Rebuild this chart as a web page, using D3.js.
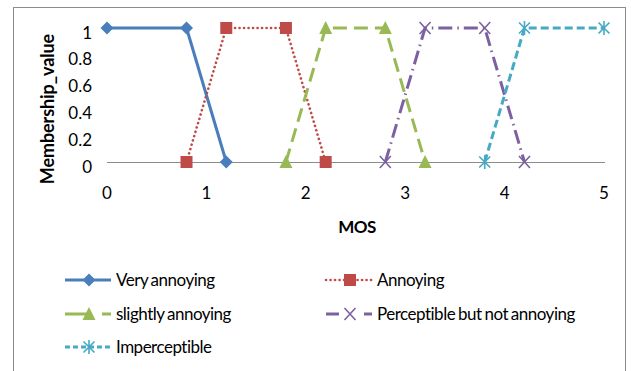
<!DOCTYPE html>
<html>
<head>
<meta charset="utf-8">
<script src="https://cdn.jsdelivr.net/npm/d3@7"></script>
<style>
  html, body { margin: 0; padding: 0; background: #fff; }
  text { font-family: Lato, "Open Sans", sans-serif; fill: #000; }
</style>
</head>
<body>
<svg id="chart" width="631" height="371"></svg>
<script>
// MOS membership functions (x = MOS, y = membership value)
const veryAnnoying = [[0, 1], [0.8, 1], [1.2, 0]];
const annoying = [[0.8, 0], [1.2, 1], [1.8, 1], [2.2, 0]];
const slightlyAnnoying = [[1.8, 0], [2.2, 1], [2.8, 1], [3.2, 0]];
const perceptible = [[2.8, 0], [3.2, 1], [3.8, 1], [4.2, 0]];
const imperceptible = [[3.8, 0], [4.2, 1], [5, 1]];

const seriesNames = ["Very annoying", "Annoying", "slightly annoying", "Perceptible but not annoying", "Imperceptible"];
const xTicks = [0, 1, 2, 3, 4, 5];
const yTicks = [0, 0.2, 0.4, 0.6, 0.8, 1];

const series = [
  { name: seriesNames[0], data: veryAnnoying, color: "#4A7EBB", dash: null, legendDash: null, cap: "butt", marker: "diamond" },
  { name: seriesNames[1], data: annoying, color: "#BE4B48", dash: "0.1 4.4", legendDash: "0.1 4.4", cap: "round", marker: "square" },
  { name: seriesNames[2], data: slightlyAnnoying, color: "#98B954", dash: "14 7", legendDash: "26 11 9", cap: "butt", marker: "triangle" },
  { name: seriesNames[3], data: perceptible, color: "#7D60A0", dash: "14 5 1.5 5", legendDash: "13 25 8", cap: "butt", marker: "cross" },
  { name: seriesNames[4], data: imperceptible, color: "#46AAC5", dash: "8 4", legendDash: "5 3", cap: "butt", marker: "star" }
];

const svg = d3.select("#chart");

// outer chart frame
svg.append("rect")
  .attr("x", 13.5).attr("y", 7.5)
  .attr("width", 612).attr("height", 380)
  .attr("fill", "none").attr("stroke", "#8c8c8c").attr("stroke-width", 1);

const x = d3.scaleLinear().domain([0, 5]).range([107, 604]);
const y = d3.scaleLinear().domain([0, 1]).range([162, 28]);

// x axis line (no tick marks)
svg.append("line")
  .attr("x1", x(0)).attr("x2", x(5) + 1)
  .attr("y1", y(0) + 0.5).attr("y2", y(0) + 0.5)
  .attr("stroke", "#8c8c8c").attr("stroke-width", 1);

svg.append("g").selectAll("text").data(xTicks).join("text")
  .attr("x", d => x(d)).attr("y", 199)
  .attr("text-anchor", "middle")
  .attr("font-size", 17)
  .text(d => d);

svg.append("g").selectAll("text").data(yTicks).join("text")
  .attr("x", 92).attr("y", d => y(d) + 10.5)
  .attr("text-anchor", "end")
  .attr("font-size", 17)
  .text(d => d);

svg.append("text")
  .attr("transform", `translate(54,${y(0.5) + 14}) rotate(-90)`)
  .attr("text-anchor", "middle")
  .attr("font-size", 18).attr("font-weight", "bold")
  .attr("letter-spacing", -0.1)
  .text("Membership_value");

svg.append("text")
  .attr("x", 357).attr("y", 233)
  .attr("text-anchor", "middle")
  .attr("font-size", 17).attr("font-weight", "bold")
  .attr("letter-spacing", -0.5)
  .text("MOS");

// marker shapes
function drawMarker(g, type, color) {
  if (type === "diamond") {
    g.append("path").attr("d", "M0,-6.5L6.5,0L0,6.5L-6.5,0Z").attr("fill", color);
  } else if (type === "square") {
    g.append("rect").attr("x", -6).attr("y", -6).attr("width", 12).attr("height", 12).attr("fill", color);
  } else if (type === "triangle") {
    g.append("path").attr("d", "M0,-7L6.5,6L-6.5,6Z").attr("fill", color);
  } else if (type === "cross") {
    g.append("path").attr("d", "M-5.5,-6L5.5,6M-5.5,6L5.5,-6").attr("stroke", color).attr("stroke-width", 1.6);
  } else if (type === "star") {
    g.append("path").attr("d", "M-5.5,-5.5L5.5,5.5M-5.5,5.5L5.5,-5.5M0,-7L0,7").attr("stroke", color).attr("stroke-width", 1.6);
  }
}

const line = d3.line().x(d => x(d[0])).y(d => y(d[1]));

series.forEach(s => {
  svg.append("path")
    .attr("d", line(s.data))
    .attr("fill", "none")
    .attr("stroke", s.color)
    .attr("stroke-width", s.marker === "square" ? 2.6 : 3)
    .attr("stroke-linecap", s.cap)
    .attr("stroke-linejoin", "round")
    .attr("stroke-dasharray", s.dash);
  s.data.forEach(d => {
    const g = svg.append("g").attr("transform", `translate(${x(d[0])},${y(d[1])})`);
    drawMarker(g, s.marker, s.color);
  });
});

// legend: two columns, three rows
const legendPos = [
  [65, 280], [326, 280],
  [65, 314], [326, 314],
  [65, 347]
];
series.forEach((s, i) => {
  const [lx, ly] = legendPos[i];
  const g = svg.append("g").attr("transform", `translate(${lx},${ly})`);
  g.append("line")
    .attr("x1", 0).attr("x2", 46).attr("y1", 0).attr("y2", 0)
    .attr("stroke", s.color)
    .attr("stroke-width", s.marker === "square" ? 2.6 : 3)
    .attr("stroke-linecap", s.cap)
    .attr("stroke-dasharray", s.legendDash);
  const mg = g.append("g").attr("transform", "translate(24,0)");
  drawMarker(mg, s.marker, s.color);
  g.append("text")
    .attr("x", 51).attr("y", 6)
    .attr("font-size", 17)
    .attr("letter-spacing", -0.5)
    .attr("word-spacing", -1)
    .text(s.name);
});
</script>
</body>
</html>
